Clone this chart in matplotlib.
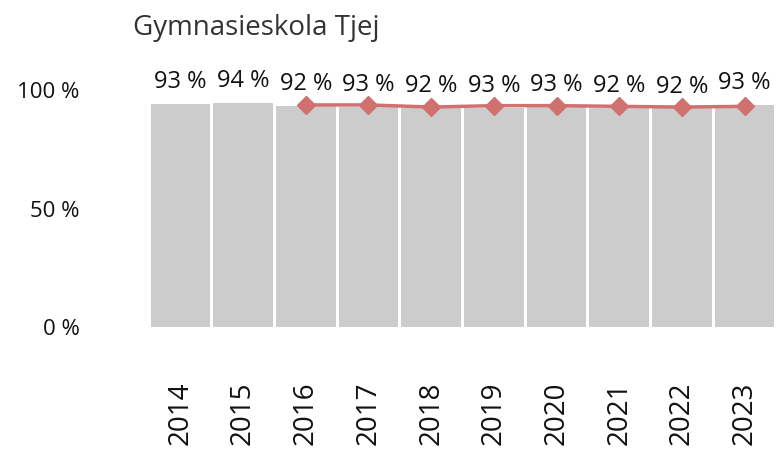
import numpy as np
import matplotlib.pyplot as plt

years = ['2014', '2015', '2016', '2017', '2018', '2019', '2020', '2021', '2022', '2023']
bar_values = [94.1, 94.5, 93.4, 92.9, 92.4, 92.5, 92.8, 92.4, 92.2, 93.6]
bar_labels = ['93 %', '94 %', '92 %', '93 %', '92 %', '93 %', '93 %', '92 %', '92 %', '93 %']
line_years = ['2016', '2017', '2018', '2019', '2020', '2021', '2022', '2023']
line_values = [93.7, 93.7, 92.8, 93.4, 93.4, 93.1, 92.8, 93.1]

plt.rcParams['font.family'] = ['Open Sans', 'DejaVu Sans']

fig = plt.figure(figsize=(7.76, 4.5), dpi=100)
ax = fig.add_axes([149 / 776, 123 / 450, 627 / 776, 237 / 450])

x = np.arange(len(years))
bars = ax.bar(x, bar_values, width=0.95, color='#cccccc', zorder=1)
for b, lab in zip(bars, bar_labels):
    ax.annotate(lab, (b.get_x() + b.get_width() / 2, b.get_height()),
                xytext=(0, 7), textcoords='offset points',
                ha='center', va='bottom', fontsize=17, color='#111111',
                annotation_clip=False)

lx = [years.index(y) for y in line_years]
ax.plot(lx, line_values, color='#d0716f', linewidth=2.5, marker='D',
        markersize=9, zorder=3)

ax.set_xlim(-0.5, len(years) - 0.5)
ax.set_ylim(0, 100)
ax.set_yticks([0, 50, 100])
ax.set_yticklabels(['0 %', '50 %', '100 %'], fontsize=16, color='#111111')
ax.set_xticks(x)
ax.set_xticklabels(years, rotation=90, fontsize=20, color='#111111')
ax.tick_params(axis='y', length=0, pad=50)
ax.tick_params(axis='x', length=0, pad=39)
for s in ax.spines.values():
    s.set_visible(False)

fig.text(133 / 776, 1 - 35 / 450, 'Gymnasieskola Tjej', fontsize=20,
         color='#333333', ha='left', va='baseline')

fig.savefig('out.png', dpi=100)
